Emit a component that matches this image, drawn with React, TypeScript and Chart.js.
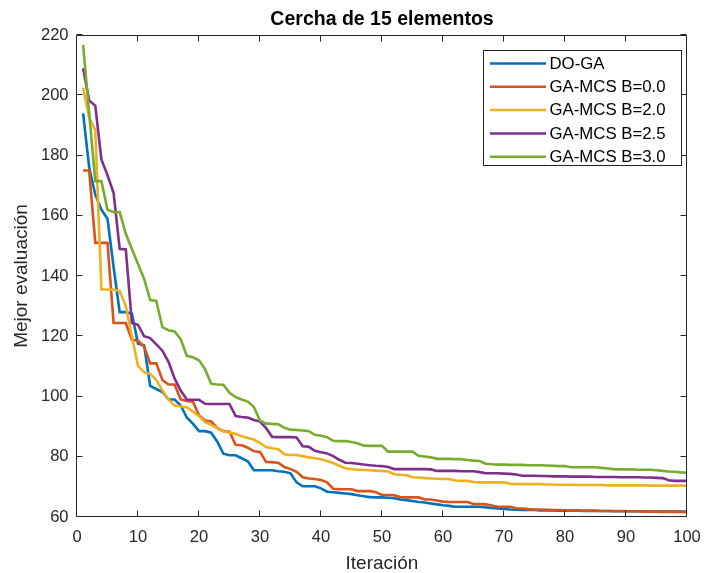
import React, { useEffect, useRef } from "react";
import { Chart, registerables } from "chart.js";

Chart.register(...registerables);

const iterations: number[] = Array.from({ length: 100 }, (_, i) => i + 1);

const doGA: number[] = [
  194, 176, 167, 162, 159, 143, 128, 128, 127.5, 117.5,
  117, 103.5, 102.5, 101.5, 99, 99, 97, 93, 91, 88.5,
  88.5, 88, 85, 81, 80.5, 80.5, 79.5, 78.5, 75.5, 75.5,
  75.5, 75.5, 75.2, 75, 74.5, 71.5, 70.2, 70.2, 70.2, 69.5,
  68.4, 68.2, 68, 67.8, 67.6, 67.2, 66.9, 66.6, 66.5, 66.5,
  66.4, 66.2, 65.8, 65.6, 65.3, 65, 64.8, 64.5, 64.2, 63.9,
  63.7, 63.4, 63.4, 63.4, 63.4, 63.4, 63.2, 63, 62.8, 62.7,
  62.5, 62.4, 62.3, 62.3, 62.3, 62.2, 62.2, 62.2, 62.1, 62.1,
  62.1, 62.1, 62.0, 62.0, 62.0, 62.0, 62.0, 61.9, 61.9, 61.9,
  61.9, 61.9, 61.9, 61.8, 61.8, 61.8, 61.8, 61.8, 61.8, 61.8,
];

const gaB00: number[] = [
  175, 175, 151, 151, 151, 124.4, 124.4, 124.4, 118.8, 118.5,
  116.6, 111, 111, 105.5, 104, 104, 99, 98.5, 98.3, 93.8,
  92, 91.7, 89.5, 88.5, 88.3, 84, 83.8, 83, 81.8, 81.6,
  78.3, 78.2, 78, 76.6, 75.9, 75, 73.2, 72.8, 72.6, 72.3,
  71.5, 69.4, 69.2, 69.2, 69.2, 68.6, 68.6, 68.6, 68.2, 67.3,
  67.3, 67.2, 66.6, 66.5, 66.5, 66.5, 65.8, 65.8, 65.5, 65.1,
  65, 65, 65, 65, 64.3, 64.3, 64.2, 63.8, 63.4, 63.4,
  63.4, 62.9, 62.8, 62.6, 62.5, 62.5, 62.4, 62.3, 62.3, 62.2,
  62.2, 62.2, 62.1, 62.1, 62.1, 62.0, 62.0, 62.0, 62.0, 61.9,
  61.9, 61.9, 61.8, 61.8, 61.8, 61.7, 61.7, 61.7, 61.7, 61.6,
];

const gaB20: number[] = [
  202.5, 192.5, 188.5, 135.5, 135.5, 135.5, 135, 130, 120, 110.2,
  108, 107.5, 105.5, 102, 99, 97, 96.7, 96.4, 95, 93.5,
  91.5, 90.6, 89.5, 88.4, 88, 87.6, 86.8, 86.2, 85.7, 84.5,
  83.2, 82.8, 82.5, 80.8, 80.6, 80.6, 80.2, 79.8, 79.5, 79.2,
  78.6, 77.9, 77, 76.2, 75.9, 75.7, 75.6, 75.5, 75.4, 75.3,
  75.1, 74.2, 74, 73.9, 73.2, 73.1, 72.9, 72.8, 72.7, 72.6,
  72.6, 72.1, 72, 72, 71.6, 71.5, 71.5, 71.5, 71.5, 71.5,
  71, 70.9, 70.9, 70.9, 70.9, 70.9, 70.8, 70.8, 70.7, 70.7,
  70.7, 70.6, 70.6, 70.6, 70.6, 70.6, 70.5, 70.5, 70.5, 70.5,
  70.5, 70.5, 70.5, 70.4, 70.4, 70.4, 70.4, 70.4, 70.4, 70.4,
];

const gaB25: number[] = [
  209, 198.3, 196.5, 178.7, 173.5, 167.5, 149, 148.8, 124.4, 123.8,
  120, 119.4, 117.3, 115.2, 111.5, 106, 102, 99, 98.9, 98.9,
  97.6, 97.5, 97.5, 97.5, 97.5, 93.5, 93.2, 93, 92.2, 91.7,
  89.5, 86.6, 86.5, 86.5, 86.5, 86.4, 83.5, 83.3, 82, 81.5,
  81.1, 80.2, 79, 78, 77.9, 77.7, 77.4, 77.2, 77, 76.9,
  76.6, 75.9, 75.9, 75.9, 75.9, 75.9, 75.9, 75.8, 75.3, 75.3,
  75.3, 75.3, 75.2, 75.2, 75.2, 74.9, 74.5, 74.5, 74.5, 74.4,
  74.3, 74.1, 73.7, 73.7, 73.7, 73.6, 73.6, 73.5, 73.5, 73.5,
  73.4, 73.4, 73.4, 73.4, 73.3, 73.3, 73.3, 73.3, 73.2, 73.2,
  73.2, 73.2, 73.1, 73.1, 73.0, 72.9, 72.2, 72.0, 72.0, 72.0,
];

const gaB30: number[] = [
  216.7, 194, 171.5, 171.5, 162, 161.2, 161.2, 154, 149, 144,
  139, 132, 131.7, 123, 122, 121.6, 119, 113.5, 113, 112,
  109, 104.2, 104, 103.9, 101.2, 99.8, 99, 98.3, 96.5, 92,
  91, 90.9, 90.8, 89.6, 89, 88.9, 88.7, 88.5, 87.3, 87,
  86.5, 85.3, 85.2, 85.2, 84.9, 84.5, 83.7, 83.6, 83.6, 83.6,
  81.7, 81.7, 81.7, 81.7, 81.7, 80.3, 80.1, 79.8, 79.3, 79.3,
  79.3, 79.2, 79.2, 78.9, 78.7, 78.6, 77.7, 77.5, 77.4, 77.4,
  77.3, 77.3, 77.3, 77.2, 77.2, 77.2, 77.1, 77.0, 76.9, 76.9,
  76.5, 76.5, 76.5, 76.5, 76.5, 76.3, 76.1, 75.9, 75.8, 75.8,
  75.8, 75.7, 75.7, 75.7, 75.5, 75.3, 75.1, 75.0, 74.8, 74.7,
];

const seriesNames: string[] = ["DO-GA", "GA-MCS B=0.0", "GA-MCS B=2.0", "GA-MCS B=2.5", "GA-MCS B=3.0"];
const seriesColors: string[] = ["#0072BD", "#D95319", "#EDB120", "#7E2F8E", "#77AC30"];
const seriesValues: number[][] = [doGA, gaB00, gaB20, gaB25, gaB30];

const xTicks = { min: 0, max: 100, step: 10 };
const yTicks = { min: 60, max: 220, step: 20 };

const FONT = "'Liberation Sans', Arial, Helvetica, sans-serif";
const AXIS_COLOR = "#262626";

const matlabFrame = {
  id: "matlabFrame",
  afterDraw(chart: any) {
    const { ctx, chartArea } = chart;
    const { left, right, top, bottom } = chartArea;
    const L = Math.round(left) - 0.5;
    const R = Math.round(right) - 0.5;
    const T = Math.round(top) + 0.5;
    const B = Math.round(bottom) - 0.5;
    ctx.save();
    ctx.strokeStyle = AXIS_COLOR;
    ctx.lineWidth = 1;
    ctx.beginPath();
    ctx.rect(L, T, R - L, B - T);
    ctx.stroke();
    const tl = 6;
    const xs = chart.scales.x;
    const ys = chart.scales.y;
    ctx.beginPath();
    xs.ticks.forEach((t: any) => {
      const px = Math.round(xs.getPixelForValue(t.value)) - 0.5;
      ctx.moveTo(px, B);
      ctx.lineTo(px, B - tl);
      ctx.moveTo(px, T);
      ctx.lineTo(px, T + tl);
    });
    ys.ticks.forEach((t: any) => {
      const py = Math.round(ys.getPixelForValue(t.value)) - 0.5;
      ctx.moveTo(L, py);
      ctx.lineTo(L + tl, py);
      ctx.moveTo(R, py);
      ctx.lineTo(R - tl, py);
    });
    ctx.stroke();

    // legend
    const bx = 483.5, by = 50.5, bw = 198, bh = 115;
    ctx.fillStyle = "#ffffff";
    ctx.fillRect(bx, by, bw, bh);
    ctx.strokeStyle = AXIS_COLOR;
    ctx.strokeRect(bx, by, bw, bh);
    ctx.font = `16.8px ${FONT}`;
    ctx.textBaseline = "middle";
    ctx.textAlign = "left";
    seriesNames.forEach((name, i) => {
      const y = 63.5 + i * 23.3;
      ctx.strokeStyle = seriesColors[i];
      ctx.lineWidth = 2.5;
      ctx.beginPath();
      ctx.moveTo(490, y);
      ctx.lineTo(546, y);
      ctx.stroke();
      ctx.fillStyle = "#000000";
      ctx.fillText(name, 549.5, y + 0.5);
    });
    ctx.restore();
  },
};

export default function App() {
  const canvasRef = useRef<HTMLCanvasElement | null>(null);

  useEffect(() => {
    const canvas = canvasRef.current;
    if (!canvas) return;
    const datasets = seriesValues.map((vals, i) => ({
      label: seriesNames[i],
      data: vals.map((v, j) => ({ x: iterations[j], y: v })),
      borderColor: seriesColors[i],
      backgroundColor: seriesColors[i],
      borderWidth: 2.6,
      pointRadius: 0,
      tension: 0,
      fill: false,
      order: seriesValues.length - 1 - i,
    }));
    const chart = new Chart(canvas, {
      type: "line",
      data: { datasets },
      options: {
        responsive: false,
        animation: false,
        devicePixelRatio: 1,
        layout: { padding: 0 },
        plugins: {
          legend: { display: false },
          tooltip: { enabled: false },
          title: {
            display: true,
            text: "Cercha de 15 elementos",
            color: "#000000",
            fullSize: false,
            font: { family: FONT, size: 19.5, weight: "bold", lineHeight: 1.2 },
            padding: { top: 7.8, bottom: 3.8 },
          },
        },
        scales: {
          x: {
            type: "linear",
            min: xTicks.min,
            max: xTicks.max,
            grid: { display: false, drawTicks: false },
            border: { display: false },
            ticks: {
              stepSize: xTicks.step,
              color: AXIS_COLOR,
              font: { family: FONT, size: 16.5 },
              padding: 11,
              maxRotation: 0,
              autoSkip: false,
            },
            title: {
              display: true,
              text: "Iteración",
              color: AXIS_COLOR,
              font: { family: FONT, size: 19, lineHeight: 1 },
              padding: 0,
            },
            afterFit: (s: any) => {
              s.height = 56;
              s.paddingRight = 17;
              s.paddingLeft = 0;
            },
          },
          y: {
            type: "linear",
            min: yTicks.min,
            max: yTicks.max,
            grid: { display: false, drawTicks: false },
            border: { display: false },
            ticks: {
              stepSize: yTicks.step,
              color: AXIS_COLOR,
              font: { family: FONT, size: 16.5 },
              padding: 8.5,
            },
            title: {
              display: true,
              text: "Mejor evaluación",
              color: AXIS_COLOR,
              font: { family: FONT, size: 19, lineHeight: 1.2 },
              padding: { top: 10.6, bottom: 0 },
            },
            afterFit: (s: any) => {
              s.width = 77;
            },
          },
        },
      },
      plugins: [matlabFrame],
    });
    return () => chart.destroy();
  }, []);

  return (
    <div style={{ position: "absolute", left: 0, top: 0, width: 704, height: 573, background: "#fff" }}>
      <canvas ref={canvasRef} width={704} height={573} style={{ display: "block", width: 704, height: 573 }} />
    </div>
  );
}
